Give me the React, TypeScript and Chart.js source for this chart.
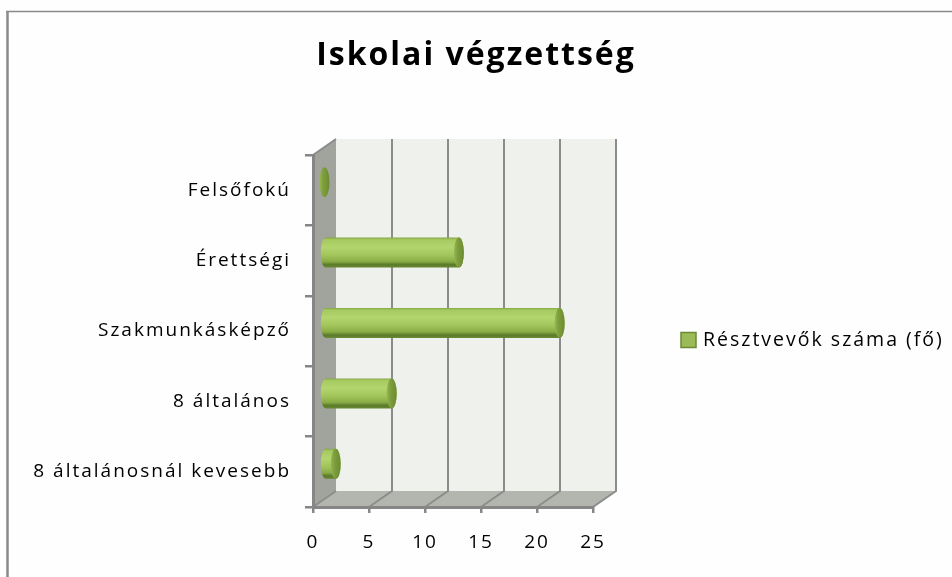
import React, { useEffect, useRef } from 'react';
import { Chart, registerables } from 'chart.js';

Chart.register(...registerables);

// ---- data ----
const CATEGORIES = ['Felsőfokú', 'Érettségi', 'Szakmunkásképző', '8 általános', '8 általánosnál kevesebb'];
const PARTICIPANTS = [0, 12, 21, 6, 1];
const SERIES_LABEL = 'Résztvevők száma (fő)';
const TITLE = 'Iskolai végzettség';
const X_MIN = 0;
const X_MAX = 25;
const X_STEP = 5;

// ---- style ----
const FONT = "'Open Sans', sans-serif";
const AXIS_GREY = '#868686';
const GRID_GREY = '#8c8c8c';
const BACK_WALL = '#eff1ec';
const FLOOR = '#b3b6ae';
const SIDE_WALL = '#a1a39d';
const LEGEND_FILL = '#9bbb59';
const LEGEND_STROKE = '#6a8a34';
const DX = 23;
const DY = -16;

function poly(ctx: CanvasRenderingContext2D, pts: number[][]) {
  ctx.beginPath();
  ctx.moveTo(pts[0][0], pts[0][1]);
  for (let i = 1; i < pts.length; i++) ctx.lineTo(pts[i][0], pts[i][1]);
  ctx.closePath();
}

function drawCylinder(ctx: CanvasRenderingContext2D, x0: number, x1: number, cy: number, ry: number, rx: number) {
  const top = cy - ry;
  const bot = cy + ry;
  if (x1 - x0 > 0.5) {
    const g = ctx.createLinearGradient(0, top, 0, bot);
    g.addColorStop(0, '#86a843');
    g.addColorStop(0.07, '#a6c960');
    g.addColorStop(0.32, '#b3d56e');
    g.addColorStop(0.6, '#a0c45a');
    g.addColorStop(0.8, '#89ab45');
    g.addColorStop(0.9, '#5c7b2b');
    g.addColorStop(1, '#688831');
    ctx.beginPath();
    ctx.moveTo(x0, top);
    ctx.lineTo(x1, top);
    ctx.ellipse(x1, cy, rx, ry, 0, -Math.PI / 2, Math.PI / 2, false);
    ctx.lineTo(x0, bot);
    ctx.ellipse(x0, cy, rx, ry, 0, Math.PI / 2, (3 * Math.PI) / 2, false);
    ctx.closePath();
    ctx.fillStyle = g;
    ctx.fill();
  }
  const cg = ctx.createLinearGradient(x1 - rx, 0, x1 + rx, 0);
  cg.addColorStop(0, '#97b852');
  cg.addColorStop(0.35, '#7f9e3d');
  cg.addColorStop(1, '#6c8b31');
  ctx.beginPath();
  ctx.ellipse(x1, cy, rx, ry, 0, 0, Math.PI * 2);
  ctx.fillStyle = cg;
  ctx.fill();
}

const threeD = {
  id: 'threeD',
  beforeUpdate(chart: any) {
    chart.ctx.letterSpacing = '2px';
  },
  beforeDraw(chart: any) {
    const { ctx, width, height } = chart;
    const { left: L, right: R, top: T, bottom: B } = chart.chartArea;
    const xs = chart.scales.x;
    ctx.save();
    ctx.fillStyle = '#fefefe';
    ctx.fillRect(0, 0, width, height);
    // outer frame
    ctx.strokeStyle = '#8a8a8a';
    ctx.lineWidth = 2.5;
    ctx.beginPath();
    ctx.moveTo(7.5, 11);
    ctx.lineTo(7.5, height + 2);
    ctx.stroke();
    ctx.lineWidth = 1.5;
    ctx.beginPath();
    ctx.moveTo(6, 11.5);
    ctx.lineTo(width + 2, 11.5);
    ctx.stroke();
    // back wall
    ctx.fillStyle = BACK_WALL;
    ctx.fillRect(L + DX, T + DY, R - L, B - T);
    // floor
    ctx.fillStyle = FLOOR;
    poly(ctx, [[L, B], [R, B], [R + DX, B + DY], [L + DX, B + DY]]);
    ctx.fill();
    // side wall
    ctx.fillStyle = SIDE_WALL;
    poly(ctx, [[L, T], [L + DX, T + DY], [L + DX, B + DY], [L, B]]);
    ctx.fill();
    // grid lines on floor and back wall
    ctx.strokeStyle = GRID_GREY;
    ctx.lineWidth = 2;
    xs.ticks.forEach((t: any) => {
      if (t.value === X_MIN) return;
      const px = xs.getPixelForValue(t.value);
      ctx.beginPath();
      ctx.moveTo(px, B);
      ctx.lineTo(px + DX, B + DY);
      ctx.lineTo(px + DX, T + DY);
      ctx.stroke();
    });
    // side wall edges
    ctx.beginPath();
    ctx.moveTo(L, T);
    ctx.lineTo(L + DX, T + DY);
    ctx.stroke();
    ctx.beginPath();
    ctx.moveTo(L, B);
    ctx.lineTo(L + DX, B + DY);
    ctx.stroke();
    ctx.restore();
  },
  afterDatasetsDraw(chart: any) {
    const { ctx } = chart;
    const meta = chart.getDatasetMeta(0);
    ctx.save();
    meta.data.forEach((bar: any) => {
      const p = bar.getProps(['x', 'y', 'base', 'height'], true);
      drawCylinder(ctx, p.base + DX / 2, p.x + DX / 2, p.y + DY / 2, p.height / 2, 5);
    });
    ctx.restore();
  },
  afterDraw(chart: any) {
    const { ctx } = chart;
    const label = chart.data.datasets[0].label;
    ctx.save();
    ctx.fillStyle = LEGEND_FILL;
    ctx.fillRect(681, 332.5, 15, 15);
    ctx.strokeStyle = LEGEND_STROKE;
    ctx.lineWidth = 1.5;
    ctx.strokeRect(681, 332.5, 15, 15);
    ctx.fillStyle = '#000';
    ctx.font = `19.5px ${FONT}`;
    ctx.textBaseline = 'middle';
    ctx.textAlign = 'left';
    ctx.fillText(label, 703, 340);
    ctx.restore();
  },
};

export default function App() {
  const ref = useRef<HTMLCanvasElement>(null);
  useEffect(() => {
    document.body.style.margin = '0';
    const chart = new Chart(ref.current as HTMLCanvasElement, {
      type: 'bar',
      data: {
        labels: CATEGORIES,
        datasets: [
          {
            label: SERIES_LABEL,
            data: PARTICIPANTS,
            backgroundColor: 'rgba(0,0,0,0)',
            borderWidth: 0,
            barThickness: 30,
          },
        ],
      },
      options: {
        indexAxis: 'y',
        responsive: false,
        animation: false,
        layout: { padding: 0 },
        plugins: {
          legend: { display: false },
          tooltip: { enabled: false },
          title: {
            display: true,
            text: TITLE,
            color: '#000',
            font: { family: FONT, size: 32, weight: 'bold', lineHeight: 1.2 },
            padding: { top: 37, bottom: 79.6 },
          },
        },
        scales: {
          x: {
            type: 'linear',
            min: X_MIN,
            max: X_MAX,
            ticks: { stepSize: X_STEP, color: '#000', font: { family: FONT, size: 19 }, padding: 18 },
            grid: { drawOnChartArea: false, drawTicks: true, tickLength: 6, color: AXIS_GREY, lineWidth: 2.5 },
            border: { color: AXIS_GREY, width: 3 },
            afterFit: (s: any) => {
              s.height = 70;
            },
          },
          y: {
            type: 'category',
            ticks: { color: '#000', font: { family: FONT, size: 19 }, padding: 14 },
            grid: { drawOnChartArea: false, drawTicks: true, tickLength: 8, color: AXIS_GREY, lineWidth: 2.5, offset: true },
            border: { color: AXIS_GREY, width: 3 },
            afterFit: (s: any) => {
              s.width = 313;
            },
          },
          legendSpace: {
            type: 'category',
            position: 'right',
            display: true,
            ticks: { display: false },
            grid: { display: false, drawTicks: false },
            border: { display: false },
            afterFit: (s: any) => {
              s.width = 359;
            },
          },
        },
      } as any,
      plugins: [threeD],
    });
    return () => chart.destroy();
  }, []);
  return <canvas ref={ref} width={952} height={577} style={{ display: 'block', width: 952, height: 577 }} />;
}
